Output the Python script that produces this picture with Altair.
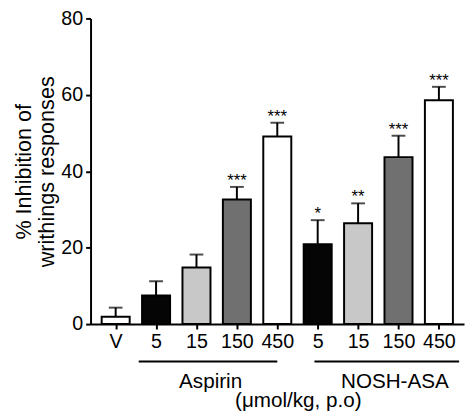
import altair as alt
import pandas as pd

# ---- data ----
labels = ["V", "5", "15", "150", "450", "5", "15", "150", "450"]
means = [1.9, 7.5, 14.8, 32.6, 49.1, 20.9, 26.4, 43.7, 58.6]
sems = [2.4, 3.7, 3.4, 3.3, 3.6, 6.3, 5.2, 5.6, 3.5]
stars = ["", "", "", "***", "***", "*", "**", "***", "***"]
fills = ["#ffffff", "#050505", "#c8c8c8", "#707070", "#ffffff",
         "#050505", "#c8c8c8", "#707070", "#ffffff"]
groups = ["Aspirin", "NOSH-ASA"]
group_from = [0.57, 4.92]
group_to = [4.0, 8.5]
group_mid = [2.35, 6.91]
unit_label = ["(μmol/kg, p.o)"]
unit_mid = [4.52]
y_title = ["% Inhibition of", "writhings responses"]

FONT = "Liberation Sans"

df = pd.DataFrame({
    "pos": list(range(len(labels))),
    "label": labels,
    "mean": means,
    "sem": sems,
    "star": stars,
    "fill": fills,
})
df["top"] = df["mean"] + df["sem"]

gdf = pd.DataFrame({"group": groups, "start": group_from, "end": group_to, "mid": group_mid})
udf = pd.DataFrame({"text": unit_label, "mid": unit_mid})

label_js = "[" + ",".join("'%s'" % l for l in labels) + "]"
xscale = alt.Scale(domain=[-0.5, len(labels) - 0.5], nice=False, zero=False)
yscale = alt.Scale(domain=[0, 80], nice=False)

base = alt.Chart(df)

bars = base.mark_bar(size=28.5, stroke="black", strokeWidth=2).encode(
    x=alt.X("pos:Q", scale=xscale,
            axis=alt.Axis(values=list(range(len(labels))),
                          labelExpr=label_js + "[datum.value]",
                          title=None, labelPadding=3)),
    y=alt.Y("mean:Q", scale=yscale,
            axis=alt.Axis(values=[0, 20, 40, 60, 80], title=y_title,
                          labelPadding=3, titlePadding=2)),
    fill=alt.Fill("fill:N", scale=None),
)
err = base.mark_rule(color="black", strokeWidth=2).encode(
    x=alt.X("pos:Q"),
    y=alt.Y("mean:Q"),
    y2="top:Q",
)
cap = base.mark_tick(orient="horizontal", color="black", size=14, thickness=2).encode(
    x=alt.X("pos:Q"),
    y=alt.Y("top:Q"),
)
star_txt = base.mark_text(font=FONT, fontSize=17, baseline="alphabetic", dy=-1, color="black").encode(
    x=alt.X("pos:Q"),
    y=alt.Y("top:Q"),
    text="star:N",
)

glines = alt.Chart(gdf).mark_rule(color="black", strokeWidth=2, yOffset=38).encode(
    x=alt.X("start:Q"),
    x2="end:Q",
    y=alt.datum(0),
)
gtext = alt.Chart(gdf).mark_text(font=FONT, fontSize=21, baseline="alphabetic", dy=65, color="black").encode(
    x=alt.X("mid:Q"),
    y=alt.datum(0),
    text="group:N",
)
utext = alt.Chart(udf).mark_text(font=FONT, fontSize=21, baseline="alphabetic", dy=84, color="black").encode(
    x=alt.X("mid:Q"),
    y=alt.datum(0),
    text="text:N",
)

chart = alt.layer(bars, err, cap, star_txt, glines, gtext, utext).properties(
    width=380,
    height=311,
    autosize=alt.AutoSizeParams(type="none"),
    padding={"left": 84, "top": 7, "right": 1, "bottom": 95},
    background="white",
).configure_view(stroke=None).configure_axis(
    grid=False,
    domainColor="black",
    domainWidth=2,
    tickColor="black",
    tickWidth=2,
    tickSize=5,
    labelColor="black",
    labelFont=FONT,
    labelFontSize=20,
    titleFont=FONT,
    titleFontSize=22,
    titleFontWeight="normal",
    titleColor="black",
    titleLineHeight=24,
)

chart.save("out.html", embed_options={"renderer": "svg", "actions": False})
